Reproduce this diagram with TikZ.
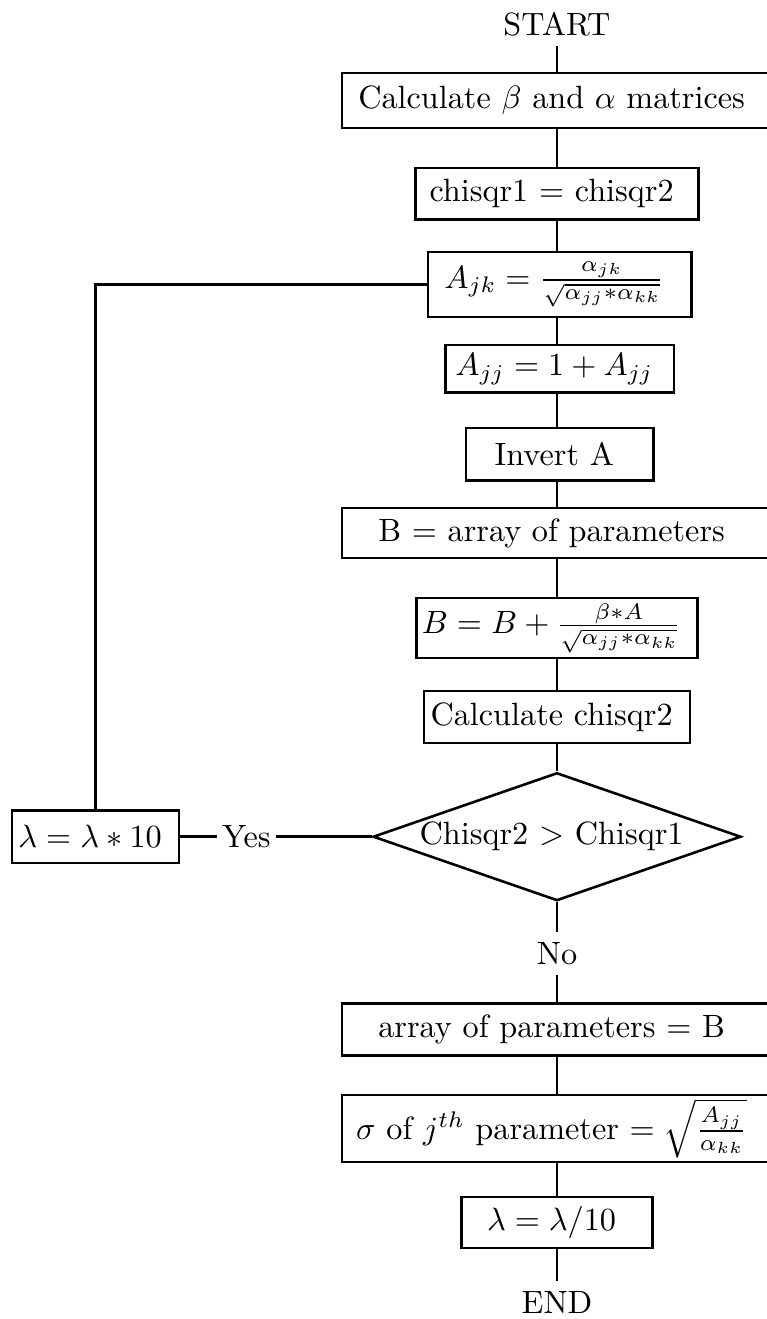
\documentclass[tikz,border=0pt]{standalone}
\usetikzlibrary{shapes.geometric}

\begin{document}
\begin{tikzpicture}[
    every node/.style={
        align=center
    },
    process/.style={
        draw,
        thick,
        inner sep=0pt,
        minimum height=0.57cm
    },
    decision/.style={
        draw,
        thick,
        diamond,
        aspect=2.875,
        inner sep=0pt,
        minimum width=4.01cm,
        minimum height=1.395cm
    },
    terminal/.style={
        inner sep=3pt
    },
    branch/.style={
        inner ysep=3pt,
        inner xsep=1.5pt
    },
    flow/.style={
        thick
    }
]

\useasboundingbox (-6.071,0) rectangle (2.289,-14.377);

\node[terminal] (start) at (0,-0.26) {START};

\node[process, minimum width=4.69cm, minimum height=0.60cm] (calc) at (0,-1.095) {
    Calculate $\beta$ and $\alpha$ matrices
};

\node[process, minimum width=3.08cm, minimum height=0.56cm] (chisqr) at (0,-2.11) {
    chisqr1 $=$ chisqr2
};

\node[process, minimum width=2.87cm, minimum height=0.71cm] (ajk) at (0.03,-3.10) {
    $A_{jk}=\frac{\alpha_{jk}}{\sqrt{\alpha_{jj}*\alpha_{kk}}}$
};

\node[process, minimum width=2.49cm, minimum height=0.52cm] (ajj) at (0.03,-4.02) {
    $A_{jj}=1+A_{jj}$
};

\node[process, minimum width=2.04cm] (invert) at (0.03,-4.95) {
    Invert A
};

\node[process, minimum width=4.69cm, minimum height=0.545cm] (barray) at (0,-5.81) {
    B $=$ array of parameters
};

\node[process, minimum width=3.06cm, minimum height=0.65cm] (bnew) at (0,-6.845) {
    $B=B+\frac{\beta*A}{\sqrt{\alpha_{jj}*\alpha_{kk}}}$
};

\node[process, minimum width=2.90cm] (chinew) at (0,-7.815) {
    Calculate chisqr2
};

\node[decision] (test) at (0,-9.12) {
    Chisqr2 $>$ Chisqr1
};

\node[process, minimum width=1.82cm] (lamup) at (-5.03,-9.12) {
    $\lambda=\lambda*10$
};

\node[branch, anchor=west] (yes) at (-3.71,-9.12) {Yes};

\node[branch] (no) at (0,-10.39) {No};

\node[process, minimum width=4.69cm] (parb) at (0,-11.22) {
    array of parameters $=$ B
};

\node[process, minimum width=4.69cm, minimum height=0.73cm] (sigma) at (0,-12.30) {
    $\sigma$ of $j^{th}$ parameter $=\sqrt{\frac{A_{jj}}{\alpha_{kk}}}$
};

\node[process, minimum width=2.08cm, minimum height=0.56cm] (lamdown) at (0,-13.325) {
    $\lambda=\lambda/10$
};

\node[terminal] (end) at (0,-14.20) {END};

% main column
\draw[flow] (start) -- (calc);
\draw[flow] (calc) -- (chisqr);
\draw[flow] (chisqr) -- (chisqr |- ajk.north);
\draw[flow] (ajk.south -| chisqr) -- (chisqr |- ajj.north);
\draw[flow] (ajj.south -| chisqr) -- (chisqr |- invert.north);
\draw[flow] (invert.south -| chisqr) -- (barray);
\draw[flow] (barray) -- (bnew);
\draw[flow] (bnew) -- (chinew);
\draw[flow] (chinew) -- (test);
\draw[flow] (test) -- (no);
\draw[flow] (no) -- (parb);
\draw[flow] (parb) -- (sigma);
\draw[flow] (sigma) -- (lamdown);
\draw[flow] (lamdown) -- (end);

% loop back
\draw[flow] (test.west) -- (yes.east |- test.west);
\draw[flow] (yes.west |- lamup.east) -- (lamup.east);
\draw[flow] (lamup.north) |- (ajk.west);

\end{tikzpicture}
\end{document}
